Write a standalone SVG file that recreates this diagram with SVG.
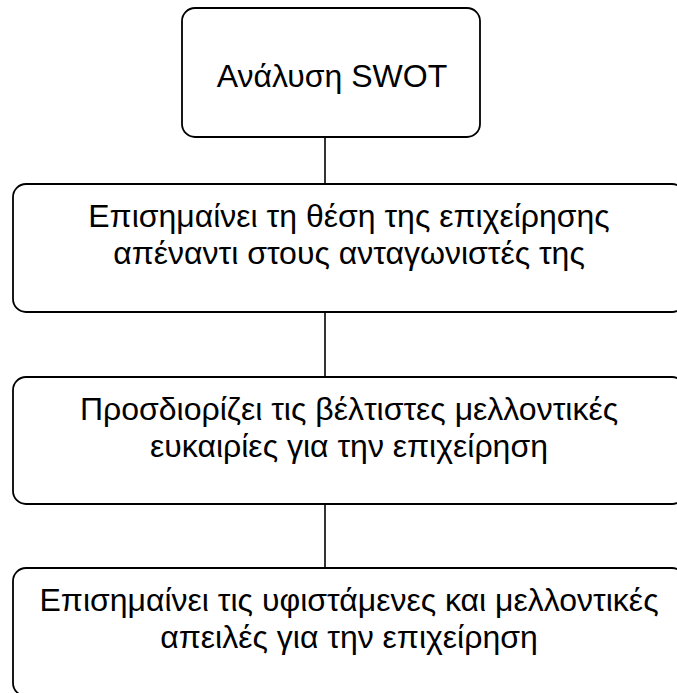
<svg xmlns="http://www.w3.org/2000/svg" width="677" height="693" viewBox="0 0 677 693">
  <style>
    .box { fill: #ffffff; stroke: #000000; stroke-width: 1.8; }
    .link { stroke: #000000; stroke-width: 1.6; fill: none; }
    .label { font-family: "Liberation Sans", Arial, sans-serif; font-size: 32px; fill: #000000; text-anchor: middle; }
  </style>
  <rect width="677" height="693" fill="#ffffff"/>
  <g id="connectors">
    <line class="link" x1="325" y1="137" x2="325" y2="184"/>
    <line class="link" x1="325" y1="312" x2="325" y2="377"/>
    <line class="link" x1="325" y1="504" x2="325" y2="568"/>
  </g>
  <g id="swot">
    <rect class="box" x="182" y="8" width="298" height="129" rx="13"/>
    <text class="label" x="332" y="87">Ανάλυση SWOT</text>
  </g>
  <g id="position">
    <rect class="box" x="13" y="184" width="672" height="128" rx="13"/>
    <text class="label" x="349" y="227">Επισημαίνει τη θέση της επιχείρησης</text>
    <text class="label" x="349" y="264">απέναντι στους ανταγωνιστές της</text>
  </g>
  <g id="opportunities">
    <rect class="box" x="13" y="377" width="672" height="127" rx="13"/>
    <text class="label" x="349" y="420">Προσδιορίζει τις βέλτιστες μελλοντικές</text>
    <text class="label" x="349" y="457">ευκαιρίες για την επιχείρηση</text>
  </g>
  <g id="threats">
    <rect class="box" x="13" y="568" width="672" height="128" rx="13"/>
    <text class="label" x="349" y="611">Επισημαίνει τις υφιστάμενες και μελλοντικές</text>
    <text class="label" x="349" y="648">απειλές για την επιχείρηση</text>
  </g>
</svg>
